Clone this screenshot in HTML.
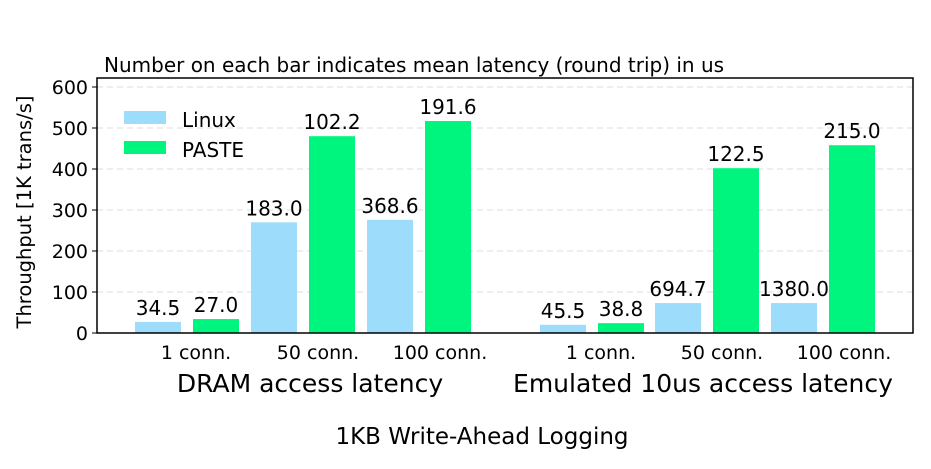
<!DOCTYPE html>
<html><head><meta charset="utf-8"><style>
body{margin:0;background:#fff}
svg{font-family:"DejaVu Sans","Liberation Sans",sans-serif}
</style></head><body>
<svg id="c" width="931" height="464"></svg>
<script>
const groups=["DRAM access latency","Emulated 10us access latency"];
const conns=["1 conn.","50 conn.","100 conn."];
const linuxVals=[27,270,276,20,73,73];
const pasteVals=[34,480,517,24,402,458];
const linuxLat=["34.5","183.0","368.6","45.5","694.7","1380.0"];
const pasteLat=["27.0","102.2","191.6","38.8","122.5","215.0"];
const yTicks=[0,100,200,300,400,500,600];
const NS="http://www.w3.org/2000/svg";
const svg=document.getElementById('c');
const L=97,R=913,T=78,B=333;
const y=v=>B-v*0.41;
const slotX=[135,251,367,540,655,771];
const connOff=[61,67,73];
function mk(t,a,txt){const e=document.createElementNS(NS,t);for(const k in a)e.setAttribute(k,a[k]);if(txt!==undefined)e.textContent=txt;svg.appendChild(e);return e;}
yTicks.forEach(v=>{
 if(v>0){const g=mk('line',{x1:L,x2:R,y1:y(v),y2:y(v),stroke:'#ddd','stroke-dasharray':'6,4'});
 
 }
 const tk=mk('line',{x1:L-5,x2:L,y1:y(v),y2:y(v),stroke:'#000'});
 
 
 const t=mk('text',{x:L-9,y:y(v)+7,'text-anchor':'end','font-size':19},v);
 
 
});
slotX.forEach((x,i)=>{
 const b1=mk('rect',{x:x,y:y(linuxVals[i]),width:46,height:B-y(linuxVals[i]),fill:'#9edcfb'});
 
 
 const b2=mk('rect',{x:x+58,y:y(pasteVals[i]),width:46,height:B-y(pasteVals[i]),fill:'#00f57f'});
 
 
 const l1=mk('text',{x:x+23,y:y(linuxVals[i])-7,'text-anchor':'middle','font-size':20},linuxLat[i]);
 
 
 const l2=mk('text',{x:x+81,y:y(pasteVals[i])-7,'text-anchor':'middle','font-size':20},pasteLat[i]);
 
 
 const c=mk('text',{x:x+connOff[i%3],y:359,'text-anchor':'middle','font-size':19},conns[i%3]);
 
 
});
const fr=mk('rect',{x:L,y:T,width:R-L,height:B-T,fill:'none',stroke:'#000','stroke-width':1.5});


[[310,groups[0]],[703,groups[1]]].forEach(([x,s])=>{
 const g=mk('text',{x:x,y:392,'text-anchor':'middle','font-size':25},s);
 
 
});
</script>
<svg style="position:absolute;left:0;top:0" width="931" height="464">
<text x="104" y="72" font-size="20">Number on each bar indicates mean latency (round trip) in us</text>
<text transform="translate(31,212) rotate(-90)" text-anchor="middle" font-size="19.5">Throughput [1K trans/s]</text>
<text x="482" y="444" text-anchor="middle" font-size="23">1KB Write-Ahead Logging</text>
<rect x="124" y="111" width="42" height="13" fill="#9edcfb"/>
<text x="182" y="127" font-size="20">Linux</text>
<rect x="124" y="141" width="42" height="13" fill="#00f57f"/>
<text x="182" y="157" font-size="20">PASTE</text>
</svg>
</body></html>
